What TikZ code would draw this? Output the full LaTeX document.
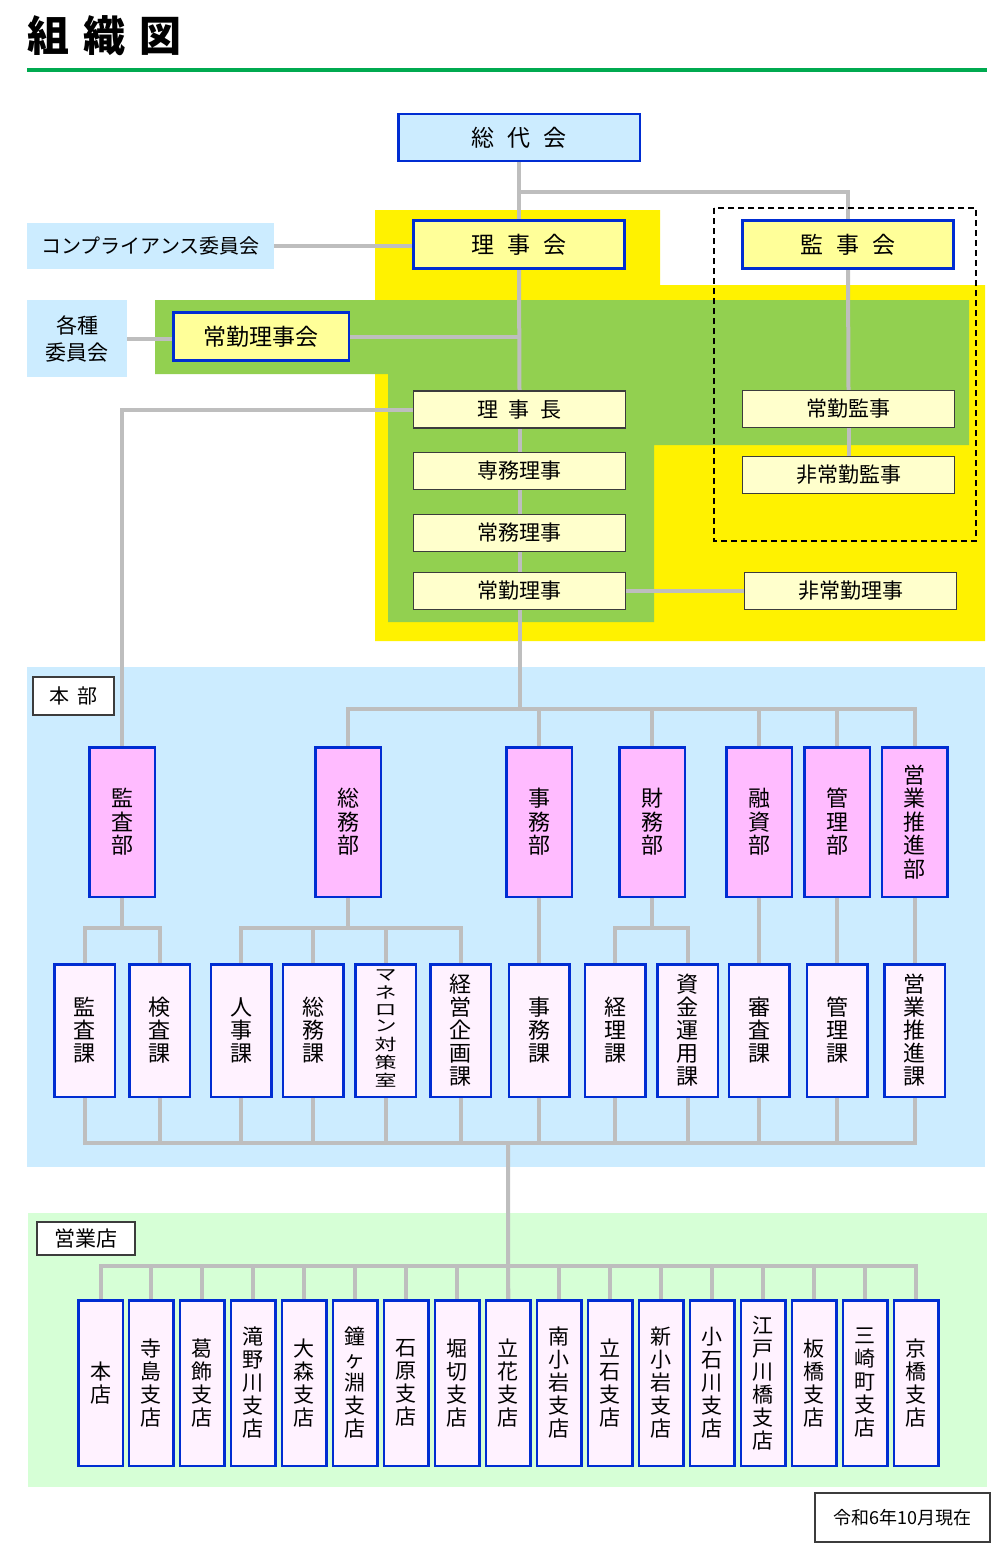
\documentclass[tikz,border=0pt]{standalone}
\usepackage{fontspec}
\setmainfont{Noto Sans CJK JP}
\usetikzlibrary{positioning}
\definecolor{boxblue}{RGB}{0,45,210}
\definecolor{linegray}{RGB}{190,190,190}
\definecolor{skyblue}{RGB}{204,236,255}
\definecolor{boxyellow}{RGB}{255,255,153}
\definecolor{paleyellow}{RGB}{255,255,204}
\definecolor{leafgreen}{RGB}{146,208,80}
\definecolor{mintgreen}{RGB}{214,255,214}
\definecolor{bupink}{RGB}{255,187,255}
\definecolor{kapink}{RGB}{255,242,255}
\definecolor{titlegreen}{RGB}{0,170,80}
\definecolor{edgegray}{RGB}{60,60,60}
\pgfdeclarelayer{background}
\pgfsetlayers{background,main}

\tikzset{
  conn/.style={draw=linegray, line width=4pt, line cap=rect},
  bluebox/.style={draw=boxblue, line width=2.5pt, inner sep=0pt, align=center},
  topbox/.style={bluebox, fill=boxyellow, minimum width=211pt, minimum height=48pt,
    font=\fontsize{23}{26}\selectfont},
  plainbox/.style={draw=edgegray, line width=1.2pt, fill=paleyellow, inner sep=0pt,
    minimum width=212pt, minimum height=37pt, font=\fontsize{21}{24}\selectfont},
  bubox/.style={bluebox, fill=bupink, minimum width=65.5pt, minimum height=149.5pt,
    font=\fontsize{22}{23.5}\selectfont},
  kabox/.style={bluebox, fill=kapink, minimum width=60.5pt, minimum height=132.5pt,
    font=\fontsize{22}{23}\selectfont},
  storebox/.style={bluebox, fill=kapink, minimum width=44.5pt, minimum height=165.5pt,
    font=\fontsize{21}{23}\selectfont},
  tagbox/.style={draw=edgegray, line width=1.2pt, fill=white, inner sep=0pt},
  sidebox/.style={fill=skyblue, inner sep=0pt, align=center},
}

\begin{document}
\begin{tikzpicture}[x=1pt, y=-1pt]
  \useasboundingbox (0,0) rectangle (993,1544);

  % Title
  \node[anchor=west, inner sep=0pt, font=\fontsize{42}{48}\selectfont\bfseries] (title)
    at (27,36) {組\hspace{14pt}織\hspace{14pt}図};
  \draw[titlegreen, line width=4pt] (27,70) -- (987,70);

  % Background areas
  \begin{pgfonlayer}{background}
    \fill[yellow] (375,210) -- (660,210) -- (660,285) -- (985,285) -- (985,641)
      -- (375,641) -- cycle;
    \fill[leafgreen] (155,300) -- (969,300) -- (969,445) -- (654,445) -- (654,622)
      -- (388,622) -- (388,374) -- (155,374) -- cycle;
    \fill[skyblue] (27,667) rectangle (985,1167);
    \fill[mintgreen] (28,1213) rectangle (987,1487);
  \end{pgfonlayer}
  \draw[black, line width=1.8pt, dash pattern=on 6pt off 4pt] (714,208) rectangle (976,541);

  % Top nodes
  \node[topbox, fill=skyblue, minimum width=241.5pt, minimum height=46.5pt] (sodai)
    at (519,137.5) {総\hspace{13pt}代\hspace{13pt}会};
  \node[topbox] (rijikai) at (519,244.5) {理\hspace{13pt}事\hspace{13pt}会};
  \node[topbox] (kanjikai) at (848,244.5) {監\hspace{13pt}事\hspace{13pt}会};
  \node[topbox, minimum width=175.5pt] (jokinrijikai) at (261,336.5) {常勤理事会};
  \node[sidebox, minimum width=247pt, minimum height=46pt, font=\fontsize{20}{24}\selectfont]
    (compliance) at (150.5,246) {コンプライアンス委員会};
  \node[sidebox, minimum width=100pt, minimum height=77pt, font=\fontsize{21}{27}\selectfont]
    (kakushu) at (77,338.5) {各種\\委員会};

  \node[plainbox] (richo) at (519.5,409.5) {理\hspace{11pt}事\hspace{11pt}長};
  \node[plainbox] (senmu) at (519.5,471) {専務理事};
  \node[plainbox] (jomu) at (519.5,533) {常務理事};
  \node[plainbox] (jokin) at (519.5,591) {常勤理事};
  \node[plainbox] (jokinkanji) at (848.5,409) {常勤監事};
  \node[plainbox] (hijokinkanji) at (848.5,475) {非常勤監事};
  \node[plainbox] (hijokinriji) at (850.5,591) {非常勤理事};

  % Section labels
  \node[tagbox, minimum width=81pt, minimum height=38pt, font=\fontsize{20}{24}\selectfont]
    (honbu) at (73.5,696) {本\hspace{8pt}部};
  \node[tagbox, minimum width=98pt, minimum height=33pt, font=\fontsize{21}{24}\selectfont]
    (eigyoten) at (86,1238.5) {営業店};
  \node[tagbox, minimum width=175pt, minimum height=49pt, font=\fontsize{18}{22}\selectfont]
    (asof) at (902.5,1517.5) {令和6年10月現在};

  % Departments
  \foreach \i/\x/\lab in {1/122/監\\査\\部, 2/348/総\\務\\部, 3/539/事\\務\\部,
      4/652/財\\務\\部, 5/759/融\\資\\部, 6/837/管\\理\\部, 7/914.5/営\\業\\推\\進\\部}{
    \node[bubox] (bu\i) at (\x,822) {\lab};
  }

  % Sections
  \foreach \i/\x/\lab in {1/84.5/監\\査\\課, 2/159.5/検\\査\\課, 3/241/人\\事\\課,
      4/313/総\\務\\課,
      5/385.5/{\scalebox{1}[0.72]{\begin{tabular}{@{}c@{}}マ\\ネ\\ロ\\ン\\対\\策\\室\end{tabular}}},
      6/460.5/経\\営\\企\\画\\課, 7/539/事\\務\\課, 8/615/経\\理\\課,
      9/687.5/資\\金\\運\\用\\課, 10/759/審\\査\\課, 11/837/管\\理\\課,
      12/914.5/営\\業\\推\\進\\課}{
    \node[kabox] (ka\i) at (\x,1030.5) {\lab};
  }

  % Branches
  \foreach \i/\lab in {1/本\\店, 2/寺\\島\\支\\店, 3/葛\\飾\\支\\店, 4/滝\\野\\川\\支\\店,
      5/大\\森\\支\\店, 6/鐘\\ヶ\\淵\\支\\店, 7/石\\原\\支\\店, 8/堀\\切\\支\\店,
      9/立\\花\\支\\店, 10/南\\小\\岩\\支\\店, 11/立\\石\\支\\店, 12/新\\小\\岩\\支\\店,
      13/小\\石\\川\\支\\店, 14/江\\戸\\川\\橋\\支\\店, 15/板\\橋\\支\\店,
      16/三\\崎\\町\\支\\店, 17/京\\橋\\支\\店}{
    \node[storebox] (s\i) at ({100.5+(\i-1)*50.97},1383) {\lab};
  }

  % Connectors
  \coordinate (sobr) at (519,192);
  \coordinate (bubr) at (519,709);
  \coordinate (kabr) at (0,928);
  \coordinate (ktbr) at (508,1143);
  \coordinate (tenbr) at (508,1266);
  \begin{pgfonlayer}{background}
    \draw[conn] (sodai.south) -- (rijikai.north);
    \draw[conn] (sobr) -| (kanjikai.north);
    \draw[conn] (compliance.east) -- (compliance.east -| rijikai.west);
    \draw[conn] (kakushu.east) -- (kakushu.east -| jokinrijikai.west);
    \draw[conn] (jokinrijikai.east) -- (jokinrijikai.east -| rijikai.south);
    \draw[conn] (rijikai.south) -- (richo.north);
    \draw[conn] (richo.south) -- (senmu.north);
    \draw[conn] (senmu.south) -- (jomu.north);
    \draw[conn] (jomu.south) -- (jokin.north);
    \draw[conn] (jokin.east) -- (jokin.east -| hijokinriji.west);
    \draw[conn] (kanjikai.south) -- (jokinkanji.north);
    \draw[conn] (jokinkanji.south) -- (hijokinkanji.north);
    \draw[conn] (richo.west) -| (bu1.north);
    \draw[conn] (jokin.south) -- (jokin.south |- bubr);
    \draw[conn] (bu2.north |- bubr) -- (bu7.north |- bubr);
    \foreach \b in {2,...,7}{
      \draw[conn] (bu\b.north |- bubr) -- (bu\b.north);
    }
    \foreach \b/\k in {1/1, 1/2, 2/3, 2/4, 2/5, 2/6, 4/8, 4/9}{
      \draw[conn] (bu\b.south) -- (bu\b.south |- kabr) -| (ka\k.north);
    }
    \foreach \b/\k in {3/7, 5/10, 6/11, 7/12}{
      \draw[conn] (bu\b.south) -- (bu\b.south |- ka\k.north);
    }
    \draw[conn] (ka1.south |- ktbr) -- (ka12.south |- ktbr);
    \foreach \k in {1,...,12}{
      \draw[conn] (ka\k.south) -- (ka\k.south |- ktbr);
    }
    \draw[conn] (ktbr) -- (s9.north);
    \draw[conn] (s1.north |- tenbr) -- (s17.north |- tenbr);
    \foreach \i in {1,...,17}{
      \draw[conn] (s\i.north |- tenbr) -- (s\i.north);
    }
  \end{pgfonlayer}
\end{tikzpicture}
\end{document}
